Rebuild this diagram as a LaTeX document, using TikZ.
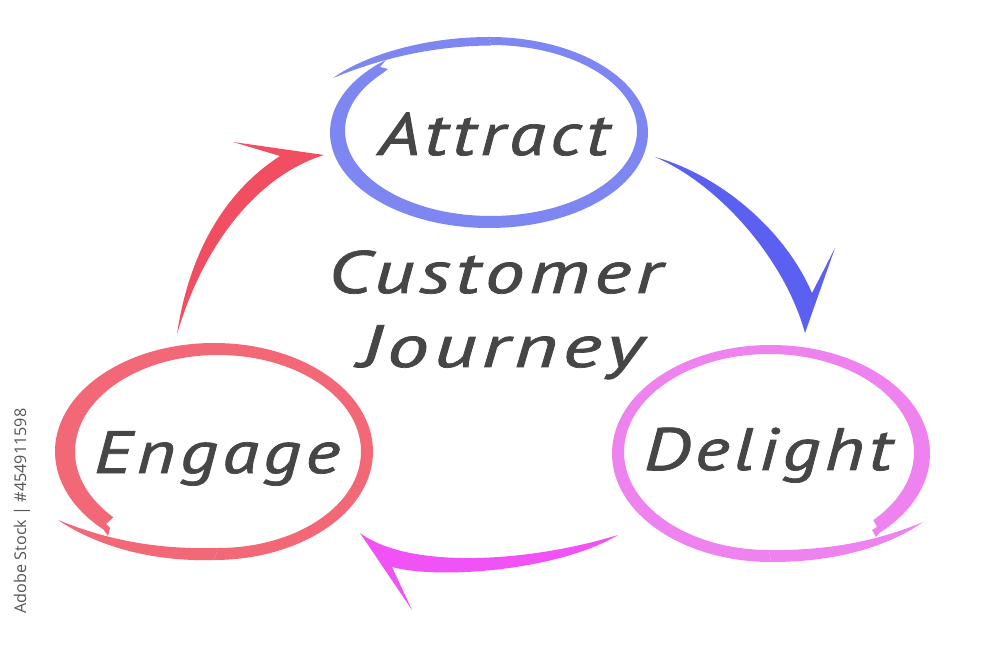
\documentclass[tikz,border=0pt]{standalone}
\usepackage{fontspec}
\newfontfamily\hand{PT Sans}[ItalicFeatures={FakeBold=1.2,LetterSpace=6}]
\newfontfamily\wmfont{Open Sans}
\definecolor{ink}{RGB}{70,70,70}
\definecolor{cA}{RGB}{126,134,242}
\definecolor{cAr}{RGB}{92,96,240}
\definecolor{cD}{RGB}{238,130,238}
\definecolor{cDr}{RGB}{240,82,245}
\definecolor{cE}{RGB}{242,104,118}
\definecolor{cEr}{RGB}{242,78,98}
\definecolor{wmgray}{RGB}{85,85,85}
\begin{document}
\begin{tikzpicture}[x=0.01cm,y=-0.01cm,
  lbl/.style={text=ink, font=\hand\itshape\fontsize{17}{20}\selectfont, anchor=base, inner sep=0pt, xscale=1.25}]
\useasboundingbox (0,0) rectangle (1000,646);
\fill[white] (0,0) rectangle (1000,646);

% Attract ring
\fill[cA] ([shift={(489,132.5)}]225:159 and 95.5) arc[start angle=225, end angle=-90, x radius=159, y radius=95.5]
  -- ([shift={(491,130.5)}]-90:146 and 85.5) arc[start angle=-90, end angle=222, x radius=146, y radius=85.5]
  -- (388,69) -- (380,67) -- (386,60) -- cycle;
\fill[cA] (489,37) .. controls (425,37) and (365,55) .. (333,78) .. controls (372,62) and (425,46) .. (491,45.5) -- cycle;

% Delight ring
\fill[cD] ([shift={(771,453.5)}]47:159 and 108.5) arc[start angle=47, end angle=-270, x radius=159, y radius=108.5]
  -- ([shift={(769,452)}]-270:145 and 98) arc[start angle=-270, end angle=44, x radius=145, y radius=98]
  -- (877,527) -- (872,530) -- (876,537) -- cycle;
\fill[cD] (771,562) .. controls (840,562) and (890,545) .. (923,522) .. controls (885,538) and (835,551) .. (769,550) -- cycle;

% Engage ring
\fill[cE] ([shift={(214,451.5)}]134:159 and 108.5) arc[start angle=134, end angle=450, x radius=159, y radius=108.5]
  -- ([shift={(218,451.5)}]450:143 and 96.5) arc[start angle=450, end angle=137, x radius=143, y radius=96.5]
  -- (106,524) -- (110,528) -- (108,536) -- cycle;
\fill[cE] (214,560) .. controls (150,562) and (95,545) .. (58,520) .. controls (100,537) and (150,550) .. (218,548) -- cycle;

% arrows
\fill[cEr] (177,334) .. controls (188,260) and (220,195) .. (280,156) -- (233,142) -- (324,155)
  .. controls (260,175) and (205,240) .. (177,334) -- cycle;
\fill[cAr] (655,157) .. controls (720,175) and (785,230) .. (812,293) -- (835,248) -- (805,333)
  .. controls (785,260) and (720,185) .. (655,157) -- cycle;
\fill[cDr] (618,535) .. controls (530,562) and (410,570) .. (360,533) -- (412,610) -- (392,567)
  .. controls (440,580) and (560,570) .. (618,535) -- cycle;

% texts
\node[lbl] (attract) at (494,155) {Attract};
\node[lbl] (delight) at (768,470) {Delight};
\node[lbl] (engage) at (217,473) {Engage};
\node[lbl, xscale=1.06] (customer) at (495,293) {Customer};
\node[lbl, xscale=1.12] (journey) at (501,367) {Journey};
\node[rotate=90, font=\wmfont\fontsize{4.6}{5}\selectfont, text=wmgray, inner sep=0pt] (wm) at (22,511) {Adobe Stock | \#454911598};
\end{tikzpicture}
\end{document}
